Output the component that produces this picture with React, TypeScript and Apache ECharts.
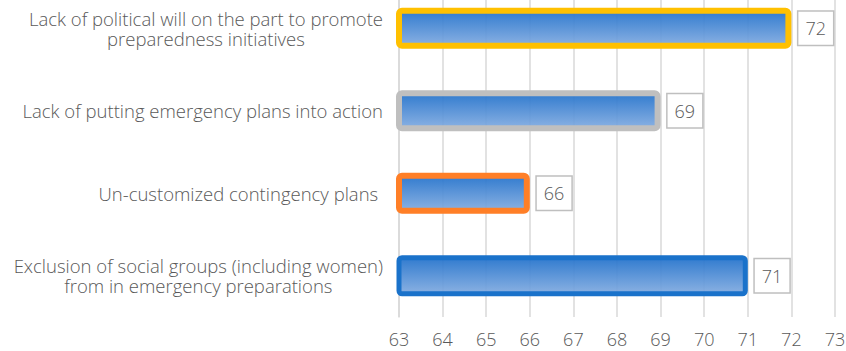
import React, { useEffect, useRef } from "react";
import * as echarts from "echarts";

const categories = [
  "Lack of political will on the part to promote\npreparedness initiatives",
  "Lack of putting emergency plans into action",
  "Un-customized contingency plans ",
  "Exclusion of social groups (including women)\nfrom in emergency preparations",
];
const values = [72, 69, 66, 71];
const borderColors = ["#FFC000", "#BFBFBF", "#FF7F27", "#1A72CA"];
const borderWidths = [6, 6, 6, 5];
const xMin = 63;
const xMax = 73;

export default function App() {
  const ref = useRef<HTMLDivElement>(null);
  useEffect(() => {
    if (!ref.current) return;
    const chart = echarts.init(ref.current, undefined, { renderer: "svg" });
    const font = "'Open Sans', 'Noto Sans', sans-serif";
    const fw = 300;
    const fs = 18.5;
    chart.setOption({
      animation: false,
      textStyle: { fontFamily: font },
      grid: { left: 399, right: 11, top: -13, bottom: 34, outerBoundsMode: "none", containLabel: false },
      xAxis: {
        type: "value",
        min: xMin,
        max: xMax,
        interval: 1,
        axisLine: { show: false },
        axisTick: { show: false },
        splitLine: { lineStyle: { color: "#D9D9D9", width: 1.5 } },
        axisLabel: { color: "#595959", fontSize: 18, fontWeight: fw, margin: 13, fontFamily: font },
      },
      yAxis: {
        type: "category",
        inverse: true,
        data: categories,
        axisLine: { show: true, lineStyle: { color: "#D9D9D9", width: 1.5 } },
        axisTick: { show: false },
        axisLabel: {
          margin: 16,
          color: "#595959",
          fontSize: fs,
          fontWeight: fw,
          lineHeight: 20,
          fontFamily: font,
          formatter: (v: string) =>
            v
              .split("\n")
              .map((l) => `{c|${l}}`)
              .join("\n"),
          rich: {
            c: { align: "center", color: "#595959", fontSize: fs, fontWeight: fw, lineHeight: 20, fontFamily: font },
          },
        },
      },
      series: [
        {
          type: "bar",
          barWidth: 41,
          clip: true,
          data: values.map((v, i) => ({
            value: v,
            itemStyle: {
              borderColor: borderColors[i],
              borderWidth: borderWidths[i],
              borderRadius: 3,
            },
          })),
          itemStyle: {
            color: new echarts.graphic.LinearGradient(0, 0, 0, 1, [
              { offset: 0, color: "rgba(38,116,204,0.95)" },
              { offset: 1, color: "rgba(128,170,224,0.92)" },
            ]),
          },
          label: {
            show: true,
            position: "right",
            distance: 7,
            color: "#595959",
            fontSize: 18,
            fontWeight: fw,
            lineHeight: 20,
            fontFamily: font,
            backgroundColor: "#fff",
            borderColor: "#BFBFBF",
            borderWidth: 1.5,
            padding: [7, 7, 6, 7],
          },
        },
      ],
    });
    return () => chart.dispose();
  }, []);
  return <div ref={ref} style={{ width: 846, height: 351, position: "absolute", left: 0, top: 0 }} />;
}
